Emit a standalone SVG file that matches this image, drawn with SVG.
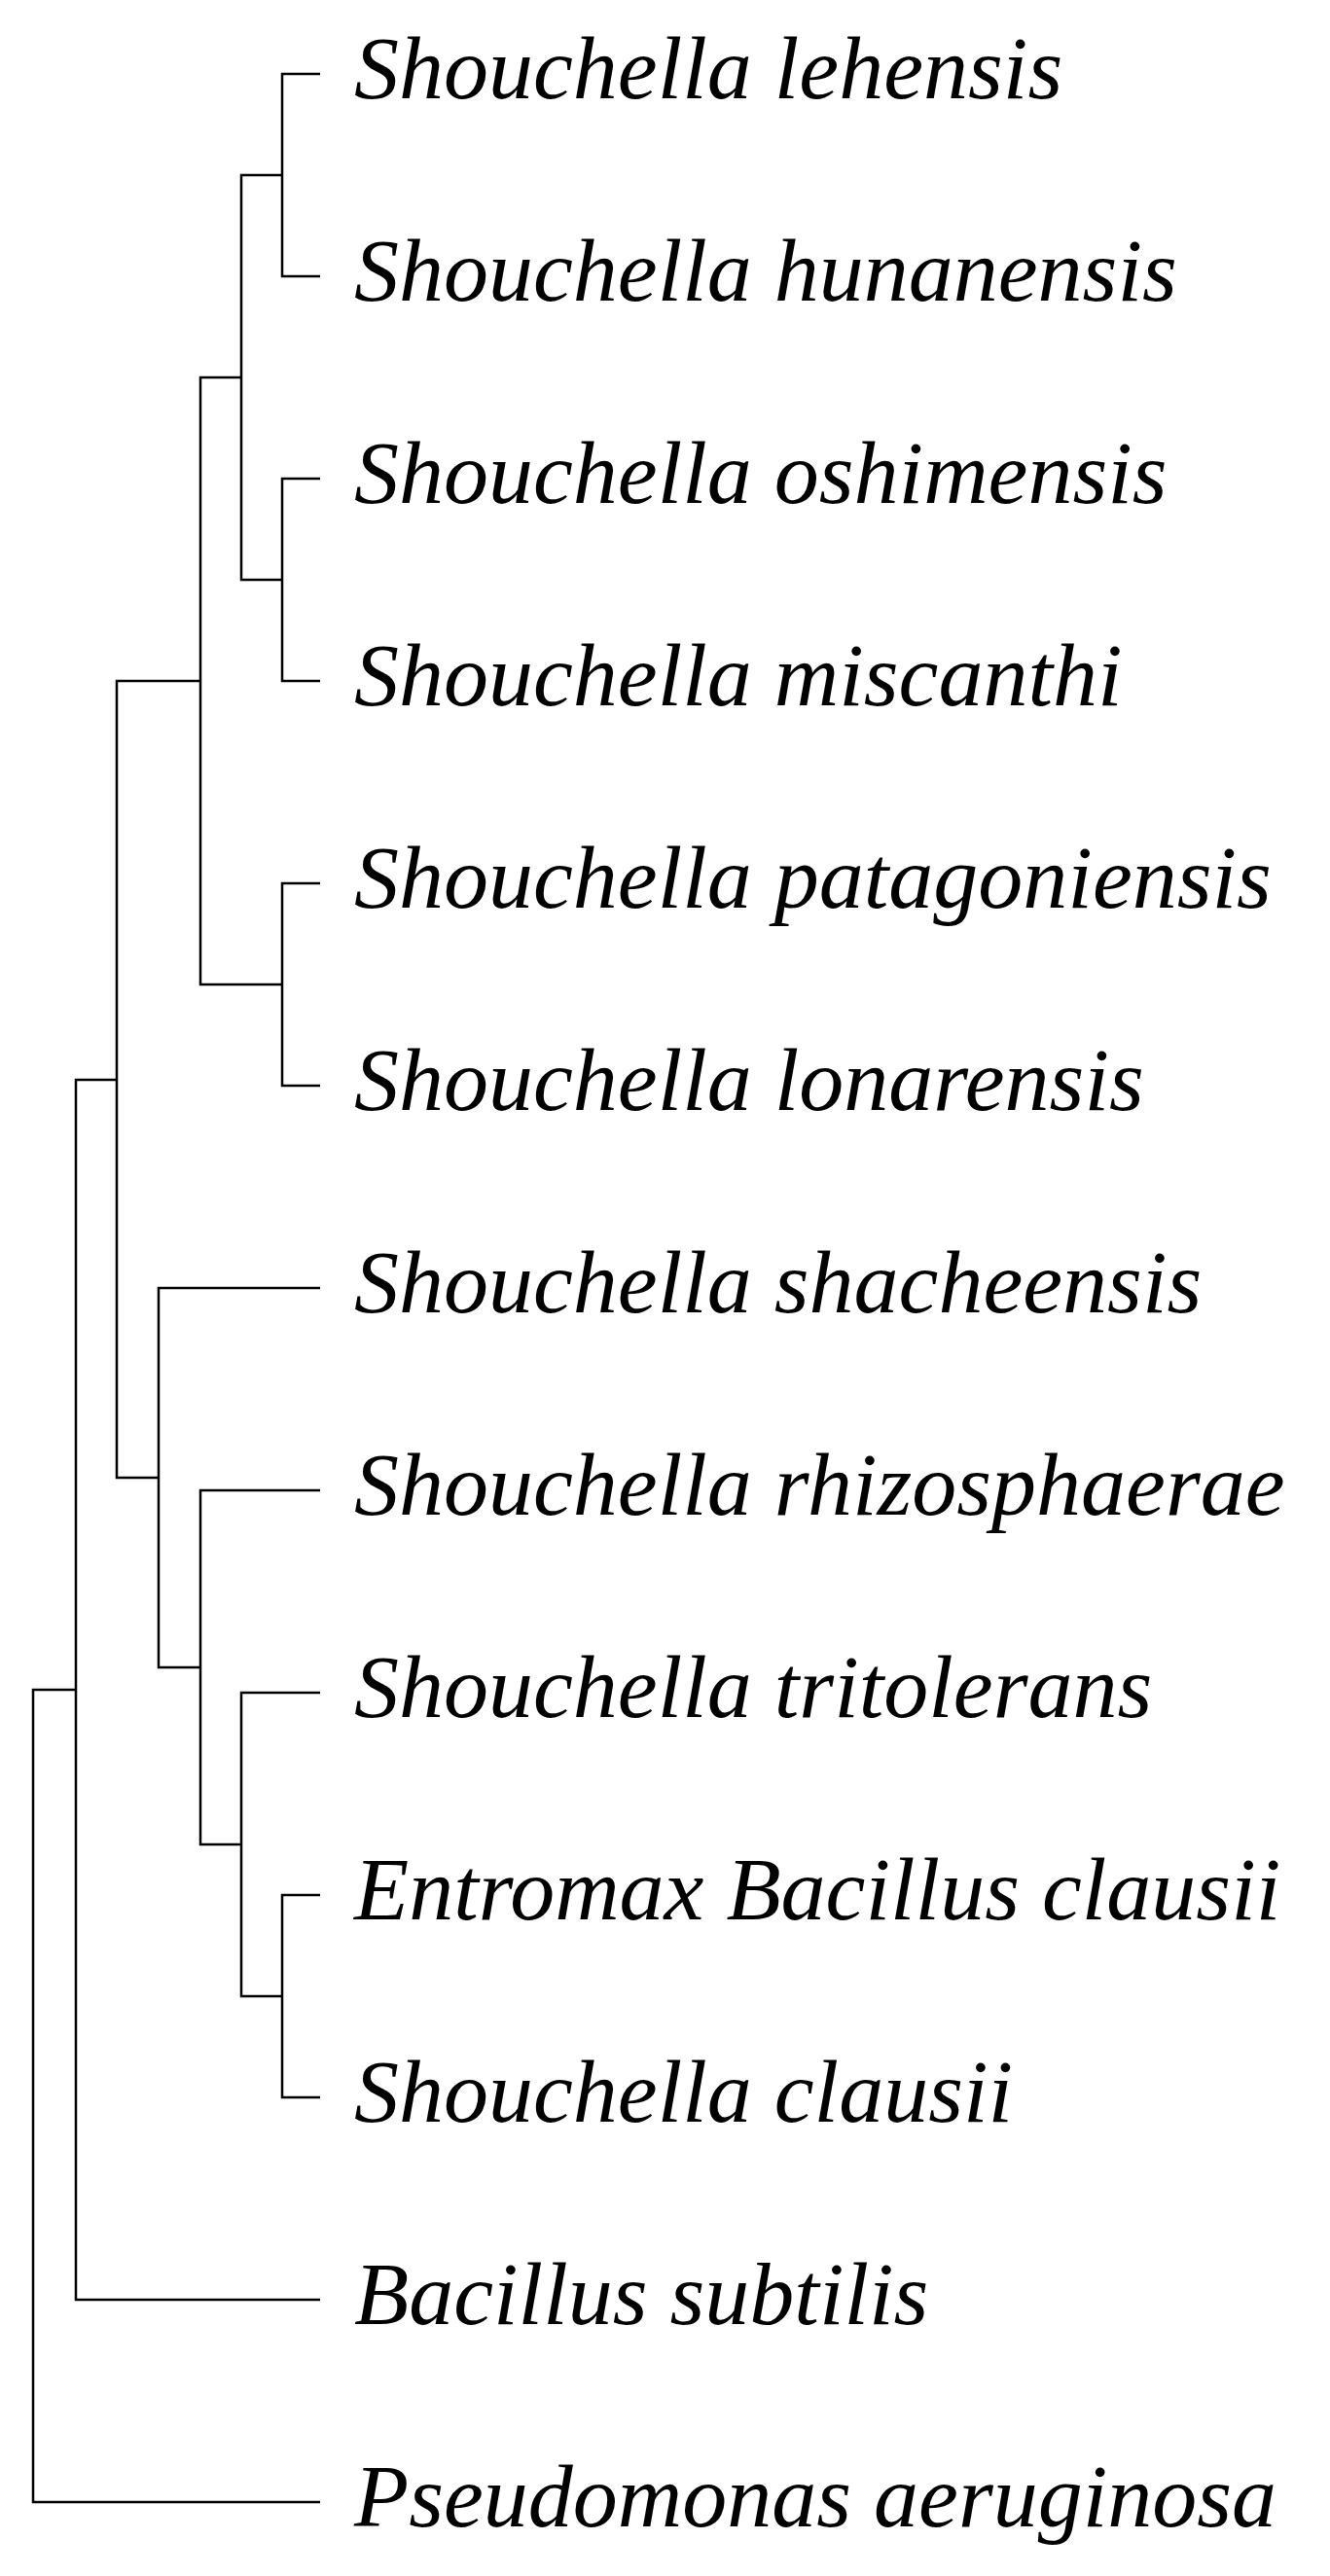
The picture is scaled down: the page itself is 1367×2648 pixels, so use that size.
<svg xmlns="http://www.w3.org/2000/svg" width="1367" height="2648" viewBox="0 0 1367 2648">
<style>
.e{fill:none;stroke:#000;stroke-width:2.5}
text{font-family:"Liberation Serif","Times New Roman",serif;font-style:italic;font-size:92px;fill:#000}
</style>
<rect width="1367" height="2648" fill="#fff"/>
<g id="connectors" class="e">
<path d="M329 76H290V284H329"/>
<path d="M329 492H290V700H329"/>
<path d="M290 180H248V596H290"/>
<path d="M329 908H290V1116H329"/>
<path d="M248 388H206V1012H290"/>
<path d="M329 1948H290V2156H329"/>
<path d="M329 1740H248V2052H290"/>
<path d="M329 1532H206V1896H248"/>
<path d="M329 1324H163V1714H206"/>
<path d="M206 700H120V1519H163"/>
<path d="M120 1110H78V2364H329"/>
<path d="M78 1737H34V2572H329"/>
</g>
<g id="n1"><text x="364" y="101">Shouchella lehensis</text></g>
<g id="n2"><text x="364" y="309">Shouchella hunanensis</text></g>
<g id="n3"><text x="364" y="517">Shouchella oshimensis</text></g>
<g id="n4"><text x="364" y="725">Shouchella miscanthi</text></g>
<g id="n5"><text x="364" y="933">Shouchella patagoniensis</text></g>
<g id="n6"><text x="364" y="1141">Shouchella lonarensis</text></g>
<g id="n7"><text x="364" y="1349">Shouchella shacheensis</text></g>
<g id="n8"><text x="364" y="1557">Shouchella rhizosphaerae</text></g>
<g id="n9"><text x="364" y="1765">Shouchella tritolerans</text></g>
<g id="n10"><text x="364" y="1973">Entromax Bacillus clausii</text></g>
<g id="n11"><text x="364" y="2181">Shouchella clausii</text></g>
<g id="n12"><text x="364" y="2389">Bacillus subtilis</text></g>
<g id="n13"><text x="364" y="2597">Pseudomonas aeruginosa</text></g>
</svg>
